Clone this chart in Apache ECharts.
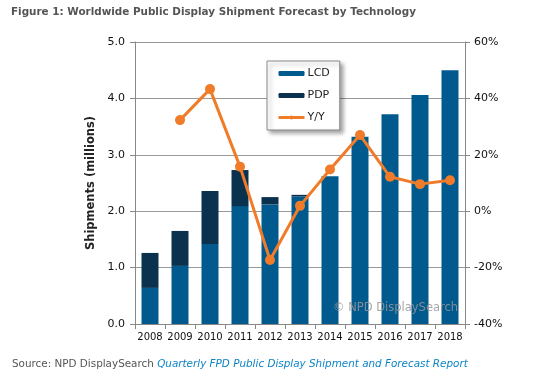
<!DOCTYPE html>
<html><head><meta charset="utf-8">
<script src="https://cdn.jsdelivr.net/npm/echarts@6/dist/echarts.min.js"></script>
<style>html,body{margin:0;padding:0;background:#fff}#c{width:554px;height:380px}</style>
</head><body><div id="c"></div>
<script>
var years = ['2008','2009','2010','2011','2012','2013','2014','2015','2016','2017','2018'];
var lcd = [0.64, 1.03, 1.42, 2.09, 2.12, 2.26, 2.62, 3.32, 3.72, 4.06, 4.50];
var pdp = [0.62, 0.62, 0.94, 0.64, 0.13, 0.03, 0.00, 0.00, 0.00, 0.00, 0.00];
var yy = [null, 32.3, 43.3, 15.8, -17.3, 1.9, 14.8, 27.0, 12.2, 9.6, 11.0];
var leftTicks = [0, 5, 1];
var rightTicks = [-40, 60, 20];
var font = 'DejaVu Sans';
var chart = echarts.init(document.getElementById('c'));
chart.setOption({
  animation: false,
  textStyle: {fontFamily: font},
  graphic: [
    {type:'text', left: 11, top: 7, z: 100, style:{text:'Figure 1: Worldwide Public Display Shipment Forecast by Technology', font:'bold 10.4px "DejaVu Sans"', fill:'#555'}},
    {type:'text', left: 12, top: 359, z: 100, style:{rich:{a:{fontFamily:font,fontSize:10.4,fill:'#555',fontStyle:'normal'}, b:{fontFamily:font,fontSize:10.4,fill:'#0b84c6',fontStyle:'italic'}}, text:'{a|Source: NPD DisplaySearch }{b|Quarterly FPD Public Display Shipment and Forecast Report}'}},
    {type:'text', left: 333, top: 302, z: 100, style:{text:'© NPD DisplaySearch', font:'11.5px "DejaVu Sans"', fill:'rgba(150,150,150,0.85)'}}
  ],
  grid: {left: 135, right: 89, top: 42, bottom: 56},
  legend: {
    orient: 'vertical', left: 267, top: 61,
    backgroundColor: '#fff', borderColor: '#888', borderWidth: 1,
    shadowColor: 'rgba(0,0,0,0.35)', shadowBlur: 4, shadowOffsetX: 3, shadowOffsetY: 3,
    padding: [7, 10, 7, 10], itemGap: 11, itemWidth: 26, itemHeight: 5,
    textStyle: {fontFamily: font, fontSize: 11, color: '#222', padding: [0,0,0,-2]},
    data: [{name:'LCD'}, {name:'PDP'}, {name:'Y/Y', lineStyle: {width: 3}}]
  },
  xAxis: {
    type: 'category', data: years,
    axisLine: {lineStyle: {color: '#888'}},
    axisTick: {show: true, alignWithLabel: false, length: 5, lineStyle: {color: '#888'}},
    axisLabel: {color: '#111', fontSize: 10, margin: 8, interval: 0, fontFamily: font}
  },
  yAxis: [
    {type: 'value', min: leftTicks[0], max: leftTicks[1], interval: leftTicks[2],
     name: 'Shipments (millions)', nameLocation: 'middle', nameGap: 28, nameRotate: 90,
     nameTextStyle: {fontFamily: font, fontWeight: 'bold', fontSize: 11.5, color: '#222'},
     axisLine: {show: true, lineStyle: {color: '#888'}},
     axisTick: {show: true, length: 5, lineStyle: {color: '#888'}},
     axisLabel: {color: '#111', fontSize: 11, margin: 10, formatter: function(v){return v.toFixed(1);}},
     splitLine: {lineStyle: {color: '#999'}}},
    {type: 'value', min: rightTicks[0], max: rightTicks[1], interval: rightTicks[2],
     axisLine: {show: true, lineStyle: {color: '#888'}},
     axisTick: {show: true, length: 5, lineStyle: {color: '#888'}},
     axisLabel: {color: '#111', fontSize: 11, margin: 9, formatter: '{value}%'},
     splitLine: {show: false}}
  ],
  series: [
    {name: 'LCD', type: 'bar', stack: 's', data: lcd, barWidth: 17, itemStyle: {color: '#005a8e'}},
    {name: 'PDP', type: 'bar', stack: 's', data: pdp, barWidth: 17, itemStyle: {color: '#0a324f'}},
    {name: 'Y/Y', type: 'line', yAxisIndex: 1, data: yy, symbol: 'circle', symbolSize: 10,
     lineStyle: {color: '#f07c2a', width: 3}, itemStyle: {color: '#f07c2a'}}
  ]
});
</script></body></html>
